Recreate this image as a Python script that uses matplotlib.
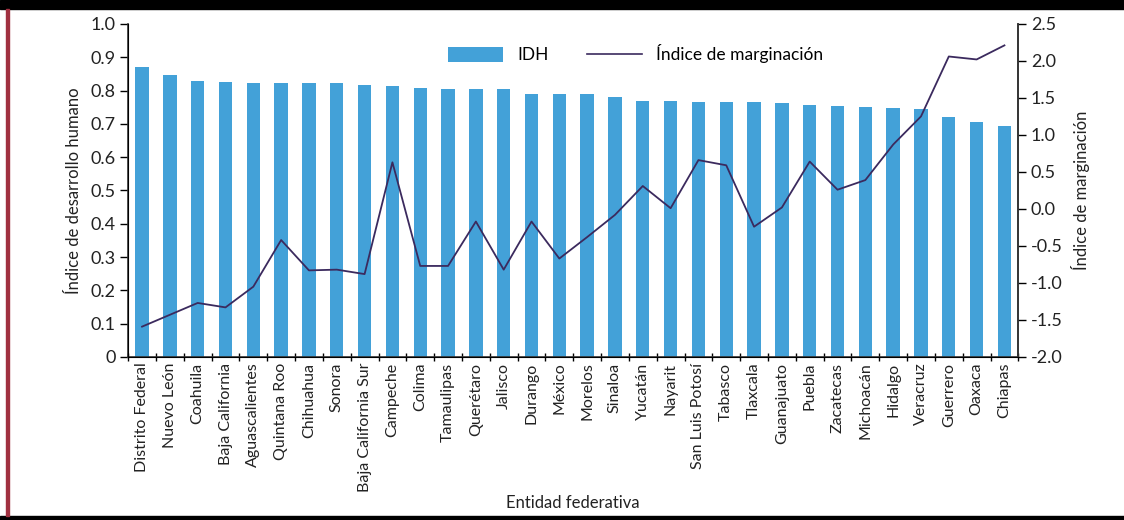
import numpy as np
import matplotlib
matplotlib.use("Agg")
import matplotlib.pyplot as plt
from matplotlib.patches import Rectangle, Patch
from matplotlib.lines import Line2D

plt.rcParams["font.family"] = ["Lato", "DejaVu Sans"]
plt.rcParams["axes.unicode_minus"] = False

# Data
estados = ["Distrito Federal", "Nuevo León", "Coahuila", "Baja California",
           "Aguascalientes", "Quintana Roo", "Chihuahua", "Sonora",
           "Baja California Sur", "Campeche", "Colima", "Tamaulipas",
           "Querétaro", "Jalisco", "Durango", "México", "Morelos", "Sinaloa",
           "Yucatán", "Nayarit", "San Luis Potosí", "Tabasco", "Tlaxcala",
           "Guanajuato", "Puebla", "Zacatecas", "Michoacán", "Hidalgo",
           "Veracruz", "Guerrero", "Oaxaca", "Chiapas"]
idh = [0.872, 0.847, 0.830, 0.825, 0.822, 0.822, 0.822, 0.822, 0.817, 0.815,
       0.809, 0.804, 0.804, 0.804, 0.790, 0.790, 0.790, 0.782, 0.770, 0.770,
       0.766, 0.766, 0.766, 0.762, 0.757, 0.754, 0.750, 0.749, 0.745, 0.720,
       0.707, 0.695]
marginacion = [-1.59, -1.43, -1.27, -1.33, -1.05, -0.42, -0.83, -0.82, -0.88,
               0.63, -0.77, -0.77, -0.17, -0.82, -0.17, -0.67, -0.38, -0.08,
               0.31, 0.01, 0.66, 0.59, -0.24, 0.02, 0.64, 0.26, 0.39, 0.87,
               1.25, 2.06, 2.02, 2.21]
left_ticks = [0, 0.1, 0.2, 0.3, 0.4, 0.5, 0.6, 0.7, 0.8, 0.9, 1.0]
left_labels = ["0", "0.1", "0.2", "0.3", "0.4", "0.5", "0.6", "0.7", "0.8", "0.9", "1.0"]
right_ticks = [-2.0, -1.5, -1.0, -0.5, 0.0, 0.5, 1.0, 1.5, 2.0, 2.5]

bar_color = "#43a1d8"
line_color = "#3b2a5e"
text_color = "#222222"

fig = plt.figure(figsize=(11.24, 5.2), dpi=100)
ax = fig.add_axes([0.114, 0.3135, 0.792, 0.6405])
x = np.arange(len(estados))

ax.bar(x, idh, width=0.48, color=bar_color, zorder=2)
ax.set_xlim(-0.5, len(estados) - 0.5)
ax.set_ylim(0, 1.0)
ax.set_yticks(left_ticks)
ax.set_yticklabels(left_labels)
ax.set_xticks(x)
ax.set_xticklabels(estados, rotation=90, fontsize=11.5, color=text_color)
ax.set_xticks(np.arange(-0.5, len(estados)), minor=True)
ax.tick_params(axis="x", which="major", length=0, pad=4)
ax.tick_params(axis="x", which="minor", length=6, direction="inout", width=1)
ax.tick_params(axis="y", length=6, direction="out", width=1, labelsize=13,
               labelcolor=text_color, pad=3)
ax.spines["top"].set_visible(False)
for s in ["left", "bottom", "right"]:
    ax.spines[s].set_linewidth(1.2)
    ax.spines[s].set_color("#333333")
ax.set_ylabel("Índice de desarrollo humano", fontsize=12, color=text_color, labelpad=6)
ax.set_xlabel("Entidad federativa", fontsize=12, color=text_color)
ax.xaxis.set_label_coords(0.5, -0.415)

ax2 = ax.twinx()
ax2.plot(x, marginacion, color=line_color, linewidth=1.3, zorder=3)
ax2.set_ylim(-2.0, 2.5)
ax2.set_yticks(right_ticks)
ax2.set_yticklabels([f"{t:.1f}" for t in right_ticks])
ax2.tick_params(axis="y", length=6, direction="out", width=1, labelsize=13,
                labelcolor=text_color, pad=3)
ax2.spines["top"].set_visible(False)
ax2.spines["right"].set_linewidth(1.2)
ax2.spines["right"].set_color("#333333")
ax2.set_ylabel("Índice de marginación", fontsize=12, color=text_color, labelpad=6)

handles = [Patch(facecolor=bar_color, edgecolor="none"),
           Line2D([0], [0], color=line_color, linewidth=1.2)]
ax2.legend(handles, ["IDH", "Índice de marginación"], ncol=2, frameon=False,
           loc="center", bbox_to_anchor=(0.57, 0.91), fontsize=12.5,
           handlelength=3.2, handleheight=0.9, columnspacing=2.2)

# Frame of the original picture
fig.patches.append(Rectangle((0, 0.982), 1, 0.018, transform=fig.transFigure,
                             color="black", zorder=0))
fig.patches.append(Rectangle((0, 0), 1, 0.008, transform=fig.transFigure,
                             color="black", zorder=0))
fig.patches.append(Rectangle((0.005, 0.008), 0.003, 0.974, transform=fig.transFigure,
                             color="#a03040", zorder=0))

fig.savefig("out.png", dpi=100)
